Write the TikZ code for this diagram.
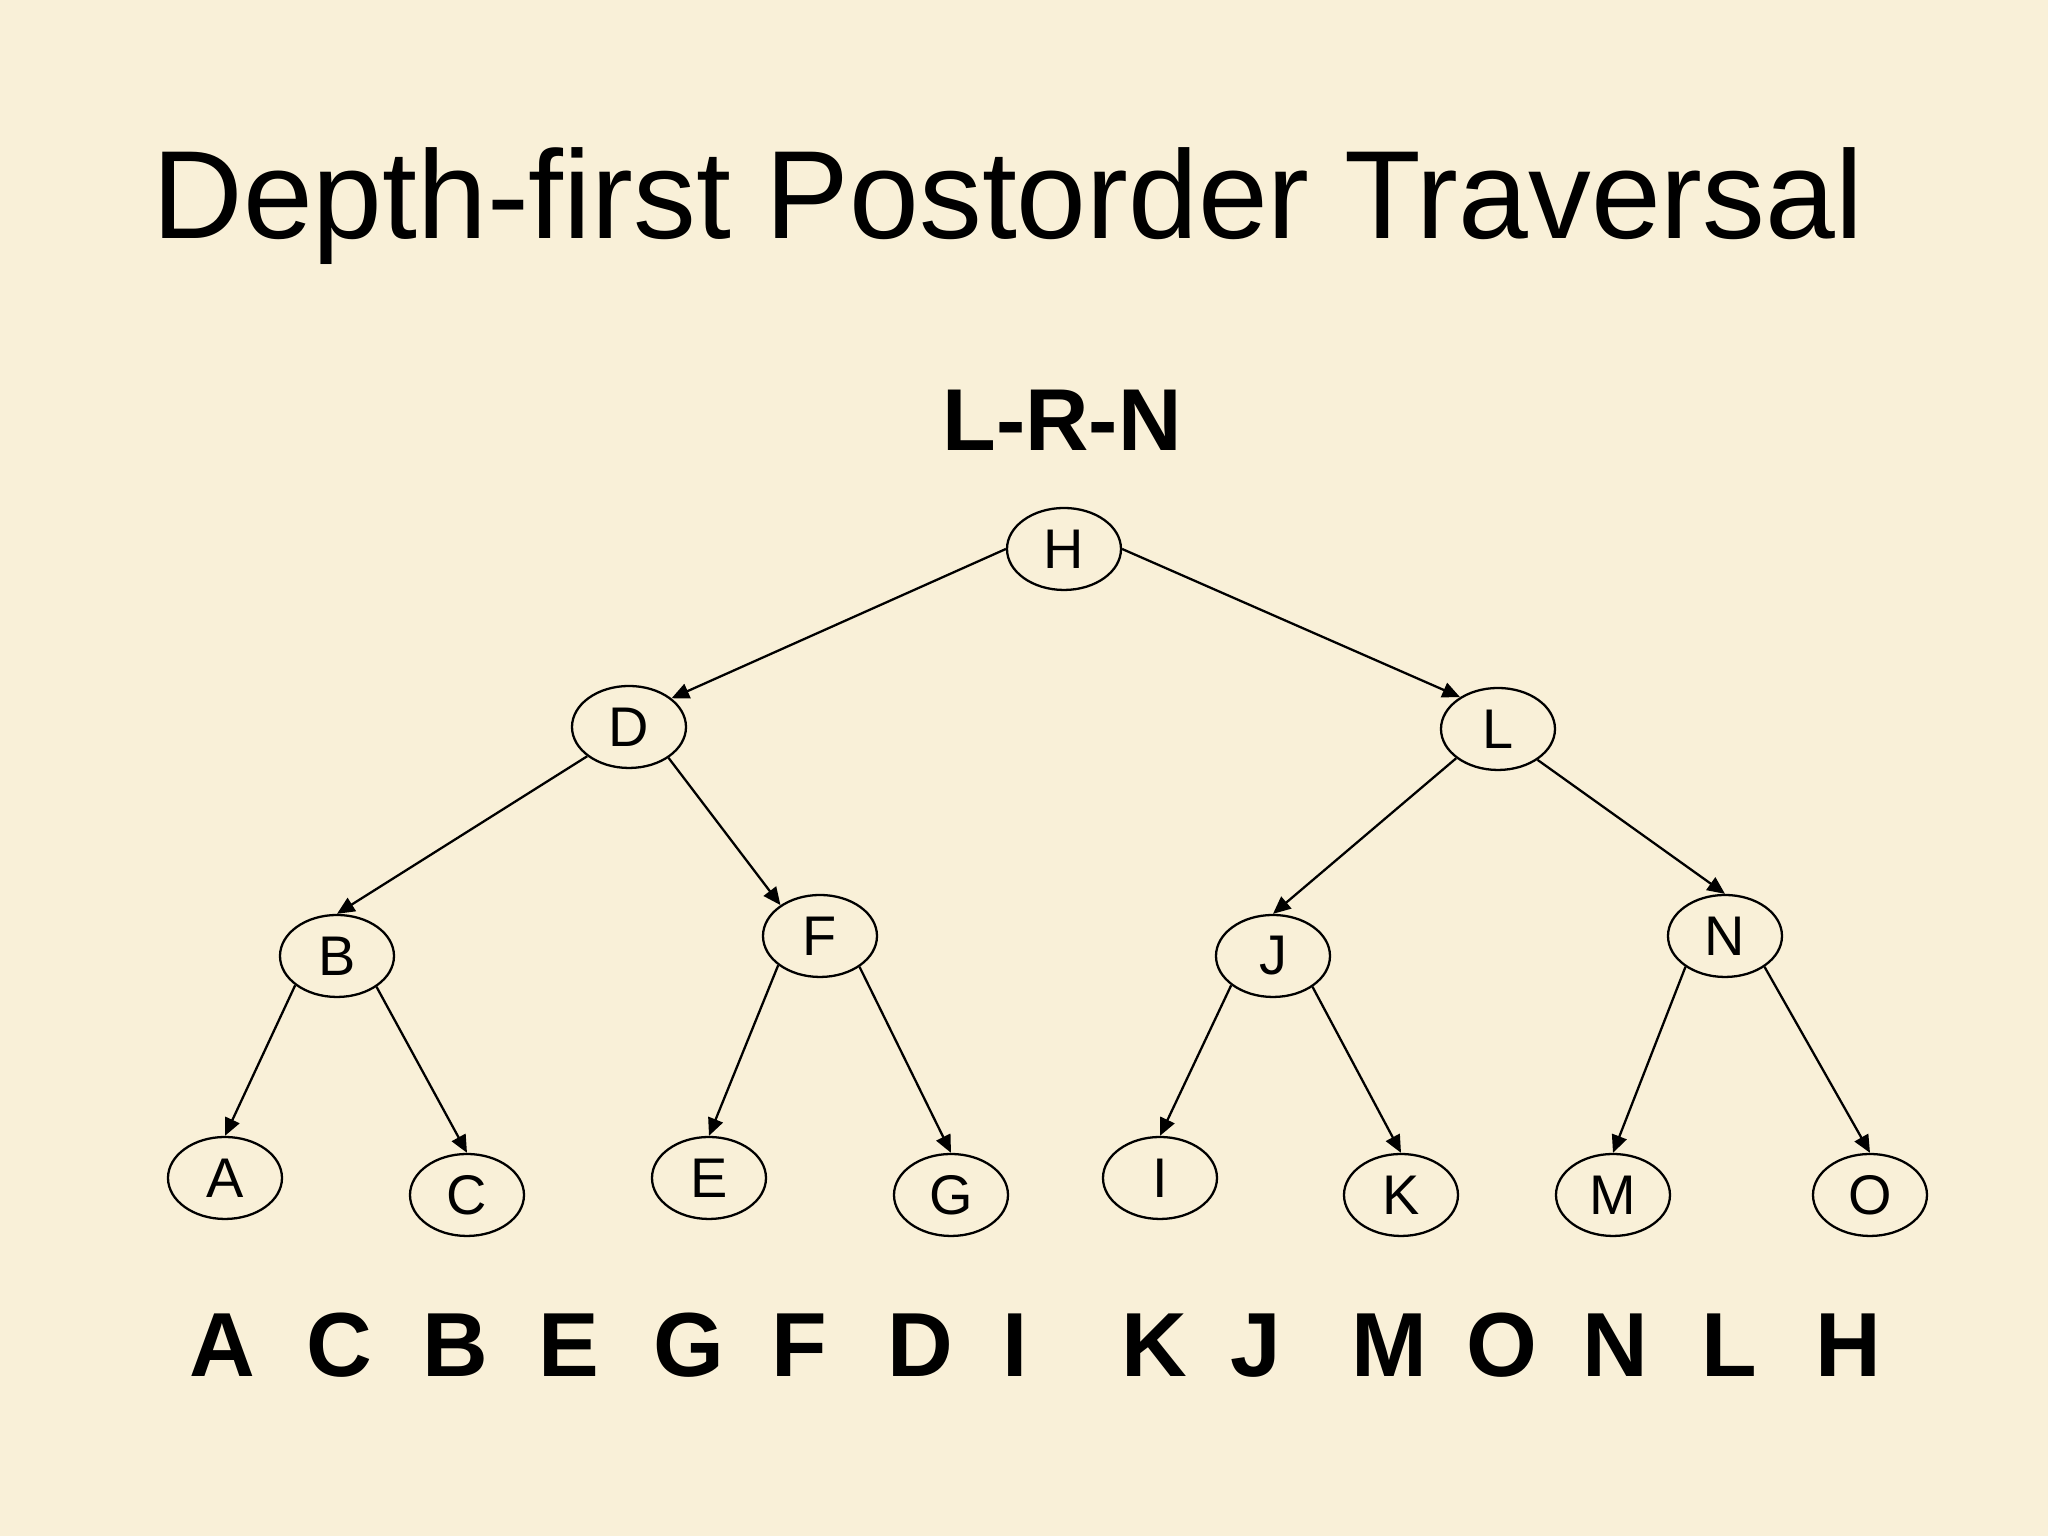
\documentclass[tikz,border=0pt]{standalone}
\usepackage{fontspec}
\setmainfont{Liberation Sans}
\usetikzlibrary{shapes.geometric,arrows.meta}

\begin{document}
\begin{tikzpicture}[x=1cm,y=1cm,
    vertex/.style={draw, ellipse, line width=0.65pt, minimum width=1.14cm, minimum height=0.82cm, inner sep=0pt, font=\fontsize{15.9}{18}\selectfont},
    link/.style={line width=0.65pt, -{Triangle[length=5pt,width=4.4pt]}},
    seqletter/.style={anchor=base, font=\fontsize{25.9}{30}\bfseries\selectfont}]
    % Define colors
    \definecolor{paper}{RGB}{249,240,216} % parchment
    % Draw background
    \fill[paper] (0,0) rectangle (20.48,15.36);
    \useasboundingbox (0,0) rectangle (20.48,15.36);

    % Title and order rule
    \node[anchor=base west, font=\fontsize{35.7}{42}\selectfont] (title) at (1.40,12.97) {Depth-first Postorder Traversal};
    \node[anchor=base, font=\fontsize{25}{30}\bfseries\selectfont] (rule) at (10.62,10.85) {L-R-N};

    % Draw tree nodes
    \node[vertex] (H) at (10.64,9.87) {H};
    \node[vertex] (D) at (6.29,8.09) {D};
    \node[vertex] (L) at (14.98,8.07) {L};
    \node[vertex] (B) at (3.37,5.80) {B};
    \node[vertex] (F) at (8.20,6.00) {F};
    \node[vertex] (J) at (12.73,5.80) {J};
    \node[vertex] (N) at (17.25,6.00) {N};
    \node[vertex] (A) at (2.25,3.58) {A};
    \node[vertex] (C) at (4.67,3.41) {C};
    \node[vertex] (E) at (7.09,3.58) {E};
    \node[vertex] (G) at (9.51,3.41) {G};
    \node[vertex] (I) at (11.60,3.58) {I};
    \node[vertex] (K) at (14.01,3.41) {K};
    \node[vertex] (M) at (16.13,3.41) {M};
    \node[vertex] (O) at (18.70,3.41) {O};

    % Draw edges
    \draw[link] (H.west) -- (D.34);
    \draw[link] (H.east) -- (L.140);
    \draw[link] (D.215) -- (B.north);
    \draw[link] (D.322) -- (F.142);
    \draw[link] (L.215) -- (J.north);
    \draw[link] (L.322) -- (N.north);
    \draw[link] (B.215) -- (A.north);
    \draw[link] (B.322) -- (C.north);
    \draw[link] (F.215) -- (E.north);
    \draw[link] (F.322) -- (G.north);
    \draw[link] (J.215) -- (I.north);
    \draw[link] (J.322) -- (K.north);
    \draw[link] (N.218) -- (M.north);
    \draw[link] (N.322) -- (O.north);

    % Visiting order
    \node[seqletter] (seq1) at (2.22,1.59) {A};
    \node[seqletter] (seq2) at (3.39,1.59) {C};
    \node[seqletter] (seq3) at (4.55,1.59) {B};
    \node[seqletter] (seq4) at (5.69,1.59) {E};
    \node[seqletter] (seq5) at (6.89,1.59) {G};
    \node[seqletter] (seq6) at (7.99,1.59) {F};
    \node[seqletter] (seq7) at (9.20,1.59) {D};
    \node[seqletter] (seq8) at (10.15,1.59) {I};
    \node[seqletter] (seq9) at (11.54,1.59) {K};
    \node[seqletter] (seq10) at (12.56,1.59) {J};
    \node[seqletter] (seq11) at (13.89,1.59) {M};
    \node[seqletter] (seq12) at (15.02,1.59) {O};
    \node[seqletter] (seq13) at (16.15,1.59) {N};
    \node[seqletter] (seq14) at (17.29,1.59) {L};
    \node[seqletter] (seq15) at (18.48,1.59) {H};
\end{tikzpicture}
\end{document}
